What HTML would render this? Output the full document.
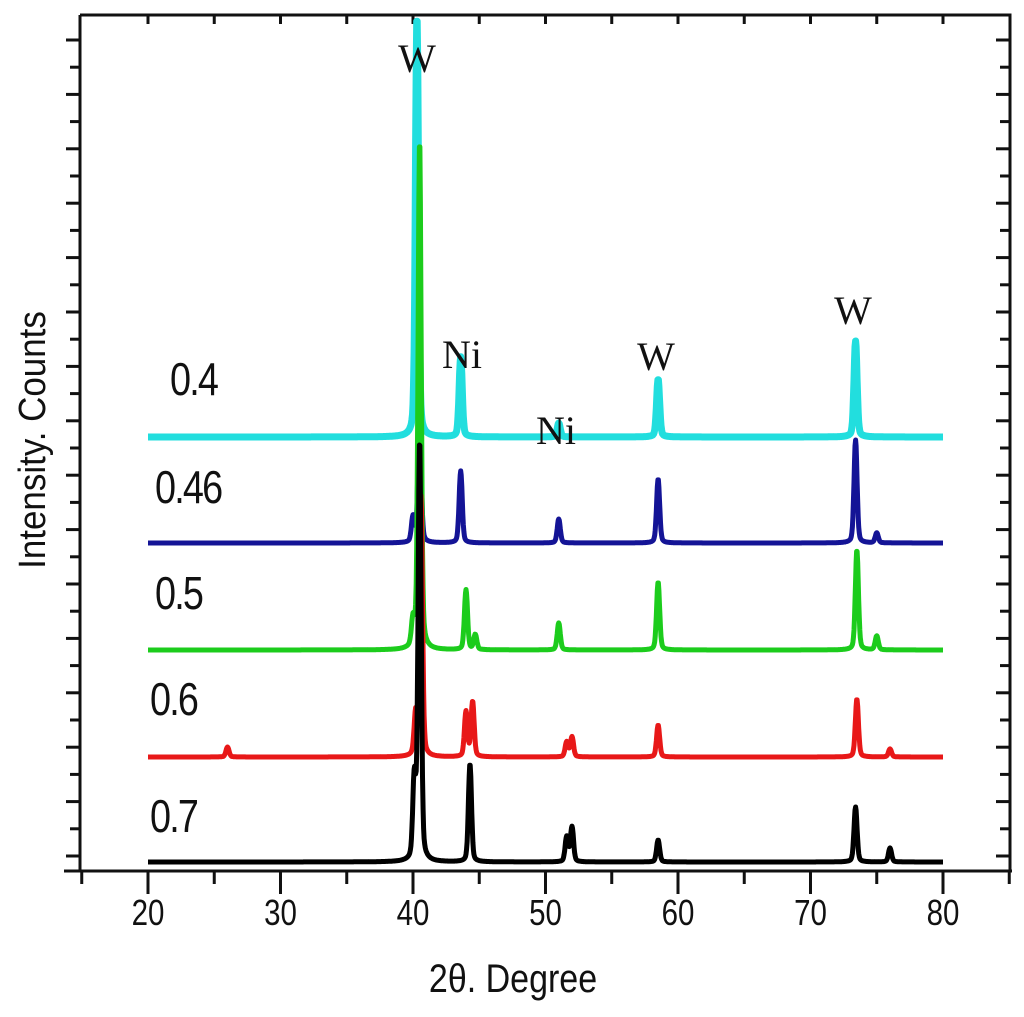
<!DOCTYPE html>
<html><head><meta charset="utf-8"><style>
html,body{margin:0;padding:0;background:#fff;}
svg{display:block;}
</style></head><body>
<svg id="chart" width="1024" height="1017" viewBox="0 0 1024 1017" xmlns="http://www.w3.org/2000/svg">
<rect width="1024" height="1017" fill="#fff"/>
<g id="axes"></g>
<g id="series"></g>
<g id="labels" font-family="'Liberation Sans', sans-serif">
  <text transform="translate(45,440) rotate(-90) scale(0.92,1)" text-anchor="middle" font-size="38" fill="#111">Intensity. Counts</text>
  <text transform="translate(513,992) scale(0.85,1)" text-anchor="middle" font-size="40" fill="#111">2θ. Degree</text>
  <g font-size="42" fill="#111" letter-spacing="-2">
    <text transform="translate(170,395) scale(0.9,1.1)">0.4</text>
    <text transform="translate(155,503) scale(0.9,1.1)">0.46</text>
    <text transform="translate(155,609) scale(0.9,1.1)">0.5</text>
    <text transform="translate(150,715) scale(0.9,1.1)">0.6</text>
    <text transform="translate(150,832) scale(0.9,1.1)">0.7</text>
  </g>
  <g font-family="'Liberation Serif', serif" font-size="40" fill="#111" text-anchor="middle">
    <text x="417" y="72">W</text>
    <text x="462" y="368">Ni</text>
    <text x="556" y="444">Ni</text>
    <text x="656" y="370">W</text>
    <text x="853" y="324">W</text>
  </g>
</g>
</svg>
<script>
// ---- data ----
const xTicks = [20, 30, 40, 50, 60, 70, 80];
const seriesNames = ['0.4', '0.46', '0.5', '0.6', '0.7'];
const seriesColors = ['#22dede', '#141496', '#1ccc1c', '#e81818', '#000000'];
const seriesBaselines = [437, 543, 650, 757, 862];
// peak positions (2θ), heights (px above baseline)
const peaksPos04 = [40.3, 43.6, 51.0, 58.5, 73.4];
const peaksH04 = [422, 80, 14, 58, 96];
const peaksPos046 = [40.0, 40.5, 43.6, 51.0, 58.5, 73.4, 75.0];
const peaksH046 = [25, 140, 72, 24, 64, 103, 10];
const peaksPos05 = [40.0, 40.5, 44.0, 44.7, 51.0, 58.5, 73.5, 75.0];
const peaksH05 = [25, 510, 60, 15, 27, 68, 100, 14];
const peaksPos06 = [26.0, 40.2, 40.6, 44.0, 44.5, 51.6, 52.0, 58.5, 73.5, 76.0];
const peaksH06 = [10, 40, 260, 45, 55, 15, 20, 32, 58, 8];
const peaksPos07 = [40.1, 40.5, 44.3, 51.6, 52.0, 58.5, 73.4, 76.0];
const peaksH07 = [80, 420, 98, 25, 35, 22, 55, 14];
const peakWidth = 0.45;

const allPos = [peaksPos04, peaksPos046, peaksPos05, peaksPos06, peaksPos07];
const allH = [peaksH04, peaksH046, peaksH05, peaksH06, peaksH07];

// ---- scales ----
const xScale = v => 148 + (v - 20) * 13.25;
const NS = 'http://www.w3.org/2000/svg';
function mk(tag, attrs, parent) {
  const e = document.createElementNS(NS, tag);
  for (const k in attrs) e.setAttribute(k, attrs[k]);
  parent.appendChild(e);
  return e;
}
const axes = document.getElementById('axes');
const ser = document.getElementById('series');

let f = mk('path', {d: 'M80 15 L1010 15 L1010 871 M80 15 L80 871 M64 871 L1012 871', stroke: '#111', 'stroke-width': 3, fill: 'none'}, axes);



for (let y = 40, i = 0; y < 868; y += 27.2, i++) {
  const len = i % 2 === 0 ? 14 : 10;
  let t = mk('line', {x1: 80 - len, x2: 80, y1: y, y2: y, stroke: '#111', 'stroke-width': 3}, axes);
  
  
  let r = mk('line', {x1: 1010 - len, x2: 1010, y1: y, y2: y, stroke: '#111', 'stroke-width': 3}, axes);
  
  
}
for (let v = 15; v <= 85; v += 5) {
  const x = xScale(v);
  const major = v % 10 === 0;
  let t = mk('line', {x1: x, x2: x, y1: 871, y2: major ? 894 : 884, stroke: '#111', 'stroke-width': 3}, axes);
  
  
  if (x > 82 && x < 1008) {
    let tt = mk('line', {x1: x, x2: x, y1: 15, y2: 24, stroke: '#111', 'stroke-width': 3}, axes);
    
    
  }
}
xTicks.forEach(v => {
  let t = mk('text', {transform: 'translate(' + xScale(v) + ',925) scale(0.82,1)', 'text-anchor': 'middle', 'font-family': "'Liberation Sans', sans-serif", 'font-size': 36, fill: '#111'}, axes);
  t.textContent = v;
  
  
});

seriesNames.forEach((name, s) => {
  const pos = allPos[s], hs = allH[s], base = seriesBaselines[s];
  let d = '';
  for (let v = 20; v <= 80.001; v += 0.04) {
    let y = 0;
    for (let k = 0; k < pos.length; k++) {
      const dx = (v - pos[k]) / peakWidth;
      y += hs[k] * (0.8 * Math.exp(-dx * dx * 8) + 0.2 / (1 + dx * dx * 6));
    }
    d += (d ? 'L' : 'M') + xScale(v).toFixed(1) + ' ' + (base - y).toFixed(1);
  }
  let p = mk('path', {d: d, stroke: seriesColors[s], 'stroke-width': s === 0 ? 7 : 5, fill: 'none', 'stroke-linejoin': 'round'}, ser);
  
  
});
</script>
</body></html>
